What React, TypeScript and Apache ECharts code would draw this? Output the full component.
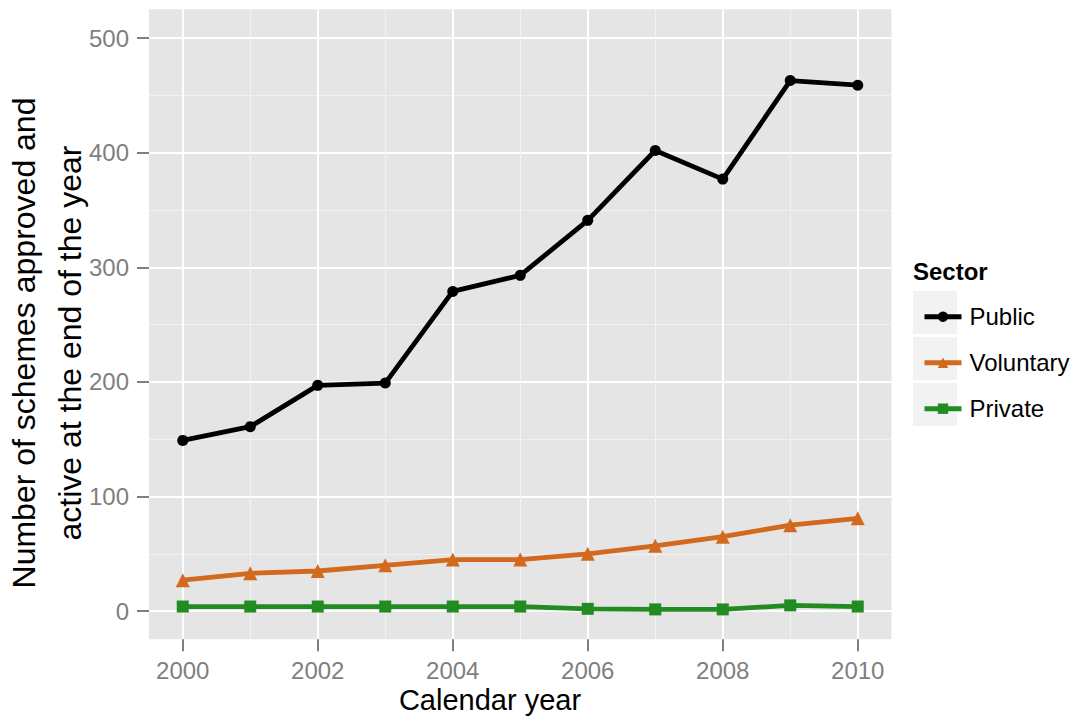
import { useEffect, useRef } from "react";
import * as echarts from "echarts";

const years = [2000, 2001, 2002, 2003, 2004, 2005, 2006, 2007, 2008, 2009, 2010];
const publicVals = [149, 161, 197, 199, 279, 293, 341, 402, 377, 463, 459];
const voluntaryVals = [27, 33, 35, 40, 45, 45, 50, 57, 65, 75, 81];
const privateVals = [4, 4, 4, 4, 4, 4, 2, 1.5, 1.5, 5, 4];

const xTicks = [2000, 2002, 2004, 2006, 2008, 2010];
const xMinorTicks = [2001, 2003, 2005, 2007, 2009];
const yTicks = [0, 100, 200, 300, 400, 500];
const yMinorTicks = [50, 150, 250, 350, 450];

const X_MIN = 1999.5;
const X_MAX = 2010.5;
const Y_MIN = -24.6;
const Y_MAX = 525.2;

const FONT = "'Liberation Sans', Arial, Helvetica, sans-serif";

const pairs = (vals: number[]) => years.map((y, i) => [y, vals[i]]);

export default function App() {
  const ref = useRef<HTMLDivElement>(null);
  useEffect(() => {
    if (!ref.current) return;
    const chart = echarts.init(ref.current, undefined, { renderer: "svg" });
    const minorAxisCommon = {
      type: "value" as const,
      axisLine: { show: false, onZero: false },
      axisLabel: { show: false },
      splitLine: { show: true, lineStyle: { color: "#F2F2F2", width: 1 } },
    };
    chart.setOption({
      animation: false,
      backgroundColor: "#ffffff",
      grid: {
        left: 149,
        right: 187.5,
        top: 9.3,
        bottom: 77.7,
        show: true,
        backgroundColor: "#E5E5E5",
        borderWidth: 0,
        containLabel: false,
        outerBoundsMode: "none",
      },
      xAxis: [
        {
          type: "value",
          min: X_MIN,
          max: X_MAX,
          axisLine: { show: false, onZero: false },
          axisTick: {
            show: true,
            customValues: xTicks,
            length: 12,
            lineStyle: { color: "#7F7F7F", width: 2 },
          },
          axisLabel: {
            customValues: xTicks,
            formatter: (v: number) => String(v),
            color: "#7F7F7F",
            fontSize: 24,
            lineHeight: 24,
            margin: 19,
            fontFamily: FONT,
          },
          splitLine: { show: true, lineStyle: { color: "#FFFFFF", width: 2 } },
        },
        {
          ...minorAxisCommon,
          min: X_MIN,
          max: X_MAX,
          position: "bottom",
          axisTick: { show: false, customValues: xMinorTicks },
        },
      ],
      yAxis: [
        {
          type: "value",
          min: Y_MIN,
          max: Y_MAX,
          axisLine: { show: false, onZero: false },
          axisTick: {
            show: true,
            customValues: yTicks,
            length: 12,
            lineStyle: { color: "#7F7F7F", width: 2 },
          },
          axisLabel: {
            customValues: yTicks,
            formatter: (v: number) => String(v),
            color: "#7F7F7F",
            fontSize: 24,
            margin: 20,
            fontFamily: FONT,
          },
          splitLine: { show: true, lineStyle: { color: "#FFFFFF", width: 2 } },
        },
        {
          ...minorAxisCommon,
          min: Y_MIN,
          max: Y_MAX,
          position: "left",
          axisTick: { show: false, customValues: yMinorTicks },
        },
      ],
      legend: {
        orient: "vertical",
        left: 917,
        top: 299.7,
        itemWidth: 37,
        itemHeight: 13,
        itemGap: 22,
        data: ["Public", "Voluntary", "Private"],
        lineStyle: { width: 5 },
        textStyle: {
          fontSize: 24,
          lineHeight: 24,
          color: "#000",
          fontFamily: FONT,
          padding: [0, 0, 0, 3],
        },
      },
      graphic: [
        { type: "rect", shape: { x: 913, y: 291, width: 44, height: 43 }, style: { fill: "#F2F2F2" } },
        { type: "rect", shape: { x: 913, y: 337, width: 44, height: 43 }, style: { fill: "#F2F2F2" } },
        { type: "rect", shape: { x: 913, y: 383, width: 44, height: 43 }, style: { fill: "#F2F2F2" } },
        {
          type: "text",
          x: 913,
          y: 271,
          style: {
            text: "Sector",
            fill: "#000",
            font: `bold 24px ${FONT}`,
            textAlign: "left",
            textVerticalAlign: "middle",
          },
        },
        {
          type: "text",
          x: 490,
          y: 700,
          style: {
            text: "Calendar year",
            fill: "#000",
            font: `29px ${FONT}`,
            lineHeight: 29,
            textAlign: "center",
            textVerticalAlign: "middle",
          },
        },
        {
          type: "text",
          x: 24,
          y: 343,
          rotation: Math.PI / 2,
          style: {
            text: "Number of schemes approved and",
            fill: "#000",
            font: `32px ${FONT}`,
            textAlign: "center",
            textVerticalAlign: "middle",
          },
        },
        {
          type: "text",
          x: 70,
          y: 343,
          rotation: Math.PI / 2,
          style: {
            text: "active at the end of the year",
            fill: "#000",
            font: `32px ${FONT}`,
            textAlign: "center",
            textVerticalAlign: "middle",
          },
        },
      ],
      series: [
        {
          name: "Public",
          type: "line",
          data: pairs(publicVals),
          symbol: "circle",
          symbolSize: 11,
          lineStyle: { color: "#000000", width: 4.8 },
          itemStyle: { color: "#000000" },
        },
        {
          name: "Voluntary",
          type: "line",
          data: pairs(voluntaryVals),
          symbol: "triangle",
          symbolSize: 14,
          lineStyle: { color: "#D2691E", width: 4.8 },
          itemStyle: { color: "#D2691E" },
        },
        {
          name: "Private",
          type: "line",
          data: pairs(privateVals),
          symbol: "rect",
          symbolSize: 12,
          lineStyle: { color: "#228B22", width: 4.8 },
          itemStyle: { color: "#228B22" },
        },
      ],
    });
    return () => chart.dispose();
  }, []);
  return (
    <div
      ref={ref}
      style={{ position: "absolute", left: 0, top: 0, width: 1079, height: 717 }}
    />
  );
}
